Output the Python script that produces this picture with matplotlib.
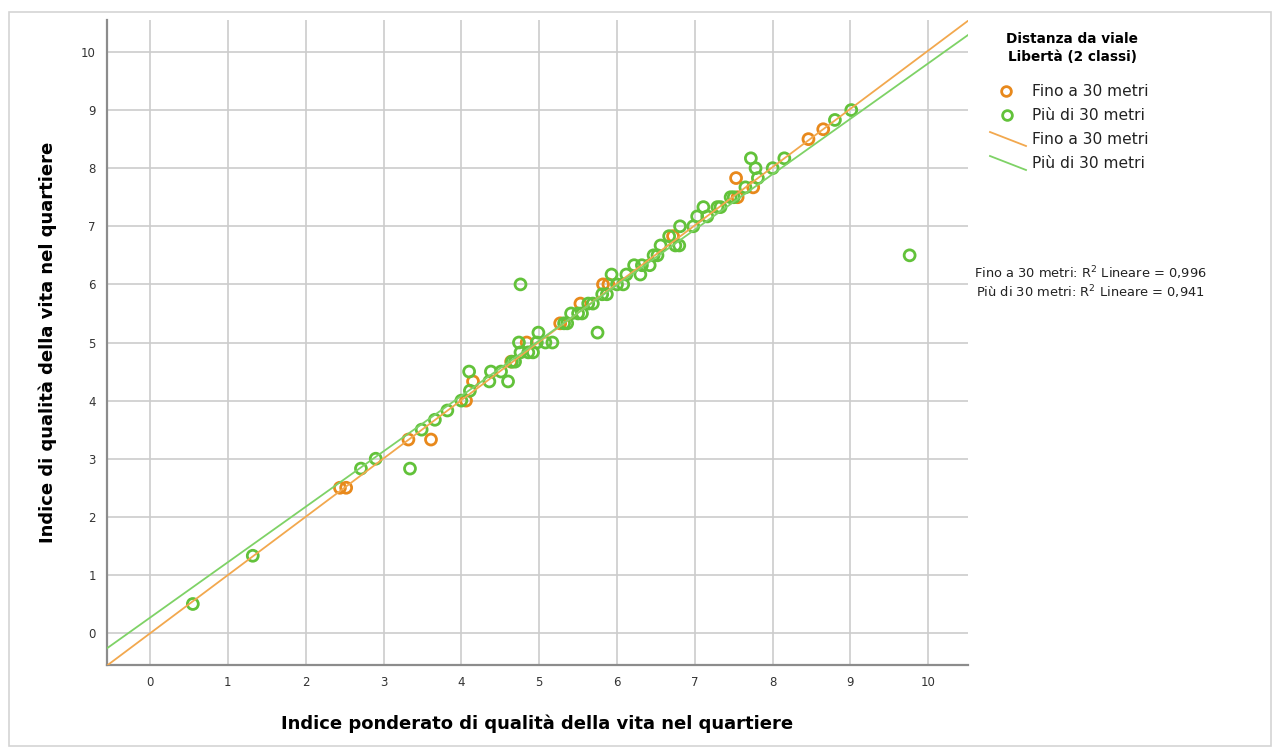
import numpy as np
import matplotlib.pyplot as plt
from matplotlib.lines import Line2D
from matplotlib.patches import Rectangle

# Fino a 30 metri
near_x = [2.44, 2.52, 3.32, 3.61, 4.06, 4.15, 4.64, 4.84, 5.27, 5.53, 5.82, 5.89,
          6.72, 7.53, 7.55, 7.75, 8.46, 8.65]
near_y = [2.5, 2.5, 3.33, 3.33, 4.0, 4.33, 4.67, 5.0, 5.33, 5.67, 6.0, 6.0,
          6.83, 7.83, 7.5, 7.67, 8.5, 8.67]

# Più di 30 metri
far_x = [0.55, 1.32, 2.71, 2.90, 3.34, 3.49, 3.66, 3.82, 4.00, 4.10, 4.11, 4.36,
         4.38, 4.51, 4.60, 4.65, 4.69, 4.74, 4.76, 4.76, 4.86, 4.92, 4.97, 4.99,
         5.08, 5.17, 5.32, 5.36, 5.41, 5.50, 5.55, 5.63, 5.69, 5.75, 5.81, 5.87,
         5.93, 6.00, 6.08, 6.12, 6.22, 6.30, 6.32, 6.42, 6.47, 6.52, 6.56, 6.67,
         6.75, 6.80, 6.81, 6.98, 7.03, 7.11, 7.16, 7.29, 7.33, 7.46, 7.50, 7.65,
         7.72, 7.78, 7.81, 8.00, 8.15, 8.80, 9.01, 9.76]
far_y = [0.5, 1.33, 2.83, 3.0, 2.83, 3.5, 3.67, 3.83, 4.0, 4.5, 4.17, 4.33,
         4.5, 4.5, 4.33, 4.67, 4.67, 5.0, 4.83, 6.0, 4.83, 4.83, 5.0, 5.17,
         5.0, 5.0, 5.33, 5.33, 5.5, 5.5, 5.5, 5.67, 5.67, 5.17, 5.83, 5.83,
         6.17, 6.0, 6.0, 6.17, 6.33, 6.17, 6.33, 6.33, 6.5, 6.5, 6.67, 6.83,
         6.67, 6.67, 7.0, 7.0, 7.17, 7.33, 7.17, 7.33, 7.33, 7.5, 7.5, 7.67,
         8.17, 8.0, 7.83, 8.0, 8.17, 8.83, 9.0, 6.5]

# linear fits (intercept, slope) and R²
near_fit = (-0.005, 1.003)
far_fit = (0.265, 0.954)
r2_labels = ['Fino a 30 metri: R$^2$ Lineare = 0,996',
             'Più di 30 metri: R$^2$ Lineare = 0,941']

ticks = list(range(0, 11))
xlim = (-0.553, 10.51)
ylim = (-0.55, 10.55)

orange = '#E8891C'
green = '#62C23A'
orange_line = '#F2A84E'
green_line = '#7ED266'

plt.rcParams['font.family'] = ['DejaVu Sans']

W, H = 1276, 751
fig = plt.figure(figsize=(W / 100, H / 100), dpi=100)
ax = fig.add_axes([107 / W, 1 - 665 / H, (968 - 107) / W, (665 - 20) / H])

ax.scatter(near_x, near_y, s=62, facecolors='none', edgecolors=orange, linewidths=2.0, zorder=3)
ax.scatter(far_x, far_y, s=62, facecolors='none', edgecolors=green, linewidths=2.0, zorder=4)

xs = np.array(xlim)
ax.plot(xs, near_fit[0] + near_fit[1] * xs, color=orange_line, lw=1.3, zorder=5)
ax.plot(xs, far_fit[0] + far_fit[1] * xs, color=green_line, lw=1.3, zorder=5)

ax.set_xlim(*xlim)
ax.set_ylim(*ylim)
ax.set_xticks(ticks)
ax.set_yticks(ticks)
ax.tick_params(length=0, labelsize=8.5, colors='#333333', pad=8)
ax.grid(True, color='#cccccc', lw=1.2)
ax.set_axisbelow(True)
for s in ['top', 'right']:
    ax.spines[s].set_visible(False)
for s in ['left', 'bottom']:
    ax.spines[s].set_color('#8c8c8c')
    ax.spines[s].set_linewidth(1.6)

ax.set_xlabel('Indice ponderato di qualità della vita nel quartiere', fontsize=13,
              fontweight='bold', labelpad=18)
ax.set_ylabel('Indice di qualità della vita nel quartiere', fontsize=13,
              fontweight='bold', labelpad=17)

# legend, drawn by hand (diagonal line keys)
def fx(px):
    return px / W

def fy(py):
    return 1 - py / H

fig.text(fx(1072), fy(39), 'Distanza da viale', ha='center', va='center',
         fontsize=9.8, fontweight='bold')
fig.text(fx(1072), fy(57), 'Libertà (2 classi)', ha='center', va='center',
         fontsize=9.8, fontweight='bold')
fig.add_artist(Line2D([fx(1006)], [fy(91)], marker='o', ms=7, mfc='none', mec=orange, mew=2.0))
fig.add_artist(Line2D([fx(1007)], [fy(115)], marker='o', ms=7, mfc='none', mec=green, mew=2.0))
fig.add_artist(Line2D([fx(990), fx(1026)], [fy(132), fy(146)], color=orange_line, lw=1.3))
fig.add_artist(Line2D([fx(990), fx(1026)], [fy(156), fy(170)], color=green_line, lw=1.3))
legend_labels = ['Fino a 30 metri', 'Più di 30 metri', 'Fino a 30 metri', 'Più di 30 metri']
for lab, py in zip(legend_labels, [91, 115, 139, 163]):
    fig.text(fx(1032), fy(py), lab, ha='left', va='center', fontsize=11.2, color='#222222')

for lab, py in zip(r2_labels, [273, 292]):
    fig.text(fx(1090), fy(py), lab, ha='center', va='center', fontsize=9.4, color='#222222')

fig.add_artist(Rectangle((fx(9), fy(746)), fx(1262), (746 - 12) / H, fill=False,
                         edgecolor='#d4d4d4', lw=1.2))

fig.savefig('out.png', dpi=100)
